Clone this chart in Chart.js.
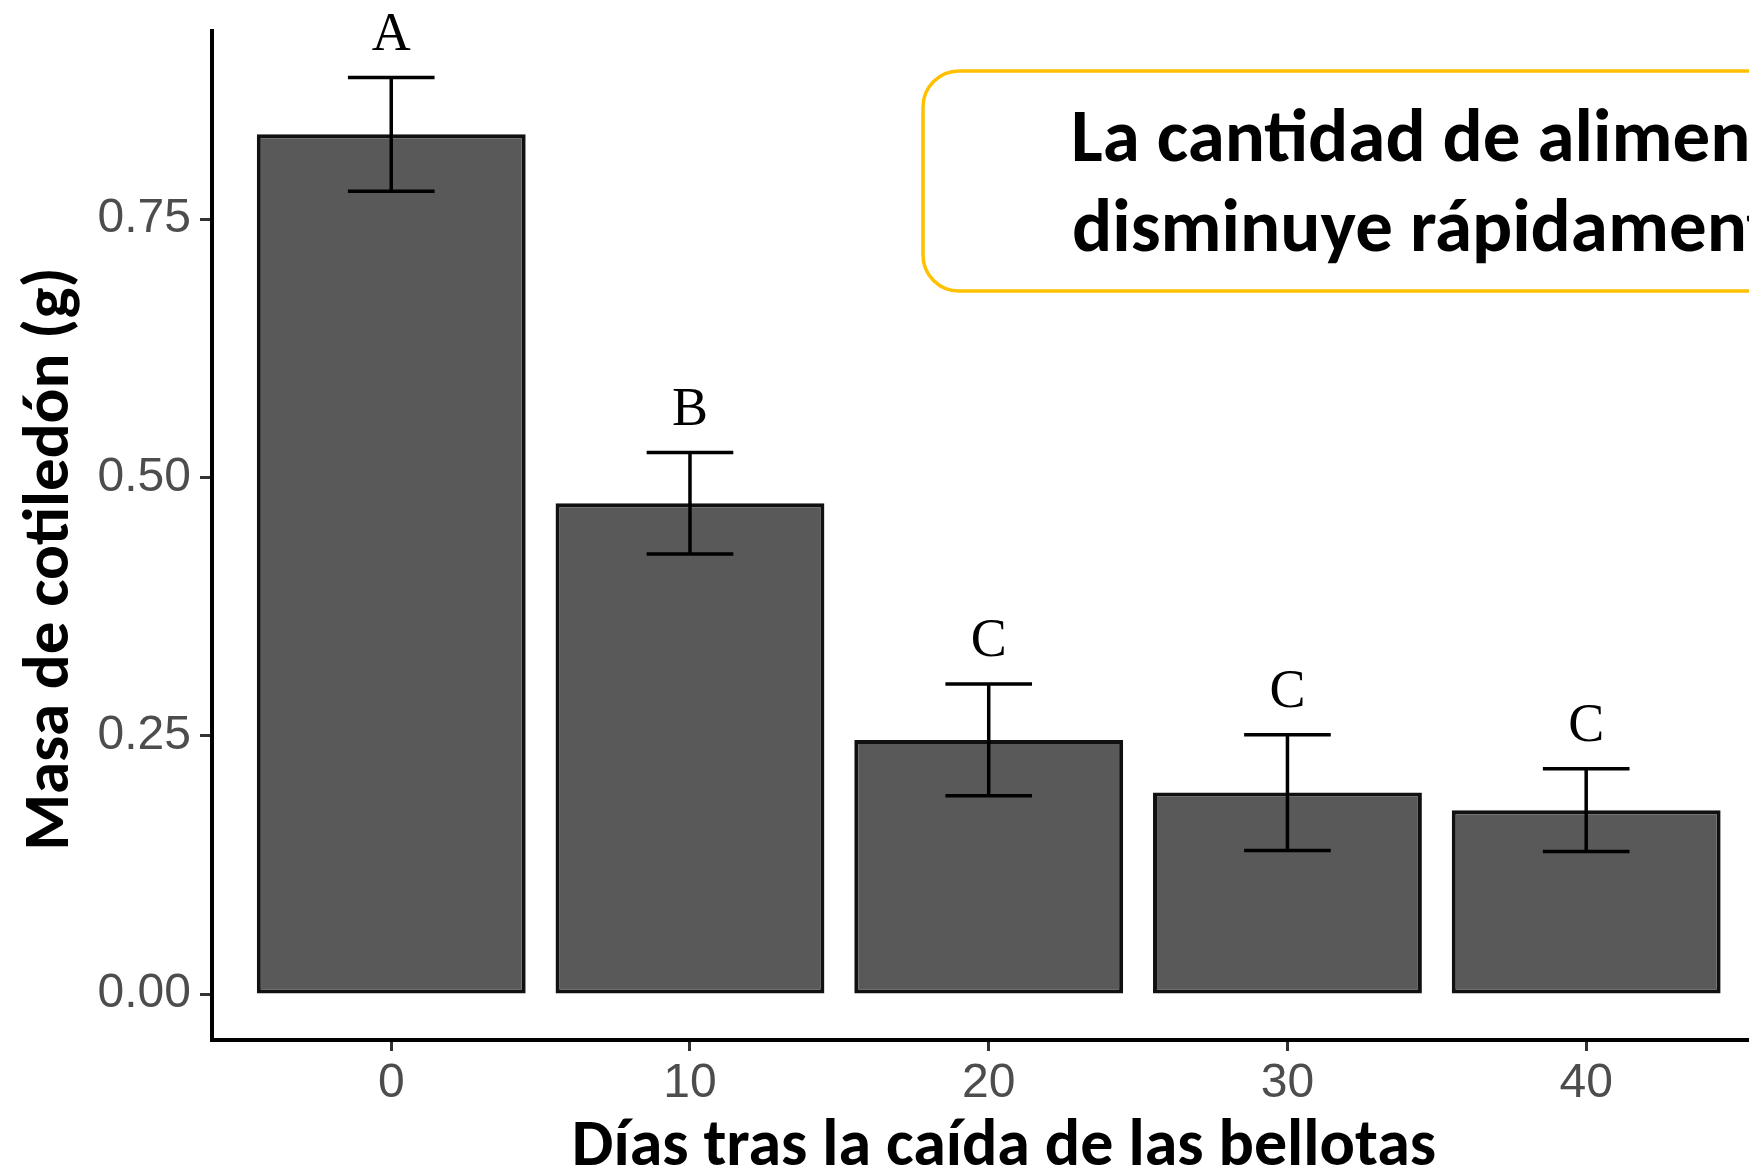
<!DOCTYPE html>
<html lang="es">
<head>
<meta charset="UTF-8">
<title>Masa de cotiledón</title>
<script src="https://cdn.jsdelivr.net/npm/chart.js@4"></script>
<style>
  html, body { margin: 0; padding: 0; background: #fff; overflow: hidden; }
  canvas { display: block; }
</style>
</head>
<body>
<canvas id="cotiledonChart" width="1749" height="1176"></canvas>
<script>
// Días tras la caída de las bellotas
const dias = ['0', '10', '20', '30', '40'];
// Masa media del cotiledón (g) y error estándar
const masaMedia = [0.832, 0.475, 0.246, 0.195, 0.178];
const errorEst = [0.055, 0.049, 0.054, 0.056, 0.040];
// Letras de significación sobre cada barra
const letras = ['A', 'B', 'C', 'C', 'C'];
const ticksY = [0, 0.25, 0.5, 0.75];

const tituloX = 'Días tras la caída de las bellotas';
const tituloY = 'Masa de cotiledón (g)';
const mensaje = ['La cantidad de alimento', 'disminuye rápidamente'];

const fuenteTitulo = 'Carlito, Lato, sans-serif';

// barras de error, letras, recuadro y títulos
const extras = {
    id: 'extras',
    afterDatasetsDraw(chart) {
        const ctx = chart.ctx;
        const xs = chart.scales.x;
        const ys = chart.scales.y;
        ctx.save();
        ctx.strokeStyle = '#000';
        ctx.lineWidth = 3.5;
        ctx.fillStyle = '#000';
        ctx.font = '54px "Liberation Serif", serif';
        ctx.textAlign = 'center';
        masaMedia.forEach((m, i) => {
            const x = xs.getPixelForValue(i);
            const xl = xs.getPixelForValue(i - 0.145);
            const xr = xs.getPixelForValue(i + 0.145);
            const yHi = ys.getPixelForValue(m + errorEst[i]);
            const yLo = ys.getPixelForValue(m - errorEst[i]);
            ctx.beginPath();
            ctx.moveTo(x, yHi); ctx.lineTo(x, yLo);
            ctx.moveTo(xl, yHi); ctx.lineTo(xr, yHi);
            ctx.moveTo(xl, yLo); ctx.lineTo(xr, yLo);
            ctx.stroke();
            ctx.fillText(letras[i], x, yHi - 28);
        });
        ctx.restore();
    },
    afterDraw(chart) {
        const ctx = chart.ctx;
        ctx.save();
        // recuadro amarillo (cortado a la derecha como en el original)
        ctx.beginPath();
        ctx.roundRect(923, 71, 1100, 220, 36);
        ctx.fillStyle = '#fff';
        ctx.fill();
        ctx.lineWidth = 3.5;
        ctx.strokeStyle = '#FFC000';
        ctx.stroke();

        ctx.fillStyle = '#000';
        ctx.font = 'bold 75px ' + fuenteTitulo;
        ctx.textAlign = 'left';
        ctx.fillText(mensaje[0], 1071, 161);
        ctx.fillText(mensaje[1], 1072, 251);

        // títulos de los ejes
        ctx.font = 'bold 66px ' + fuenteTitulo;
        ctx.textAlign = 'center';
        ctx.fillText(tituloX, 1004, 1165);
        ctx.font = 'bold 65px ' + fuenteTitulo;
        ctx.translate(68, 559);
        ctx.rotate(-Math.PI / 2);
        ctx.fillText(tituloY, 0, 0);
        ctx.restore();
    }
};

const ctx = document.getElementById('cotiledonChart').getContext('2d');
const chart = new Chart(ctx, {
    type: 'bar',
    data: {
        datasets: [{
            data: masaMedia.map((v, i) => ({ x: i, y: v })),
            backgroundColor: '#595959',
            borderColor: '#111',
            borderWidth: 4,
            borderSkipped: false,
            barPercentage: 0.9,
            categoryPercentage: 1.0
        }]
    },
    options: {
        responsive: false,
        animation: false,
        layout: { padding: { top: 31, left: 0, right: 0, bottom: 0 } },
        plugins: {
            legend: { display: false },
            tooltip: { enabled: false }
        },
        scales: {
            x: {
                type: 'linear',
                offset: false,
                min: -0.6,
                max: 4.545,
                afterBuildTicks: s => { s.ticks = dias.map((d, i) => ({ value: i })); },
                afterFit: s => { s.height = 136; s.paddingLeft = 0; s.paddingRight = 0; },
                ticks: {
                    callback: v => dias[v],
                    font: { family: 'Liberation Sans', size: 48 },
                    color: '#4d4d4d',
                    padding: 4,
                    maxRotation: 0,
                    autoSkip: false
                },
                grid: { offset: false, drawOnChartArea: false, tickLength: 11, tickWidth: 3, tickColor: '#333' },
                border: { color: '#000', width: 4 }
            },
            y: {
                min: -0.0444,
                max: 0.932,
                afterBuildTicks: s => { s.ticks = ticksY.map(v => ({ value: v })); },
                afterFit: s => { s.width = 212; s.paddingTop = 0; s.paddingBottom = 0; },
                ticks: {
                    callback: v => v.toFixed(2),
                    font: { family: 'Liberation Sans', size: 48 },
                    color: '#4d4d4d',
                    padding: 9
                },
                grid: { drawOnChartArea: false, tickLength: 12, tickWidth: 3, tickColor: '#333' },
                border: { color: '#000', width: 4 }
            }
        }
    },
    plugins: [extras]
});
</script>
</body>
</html>
